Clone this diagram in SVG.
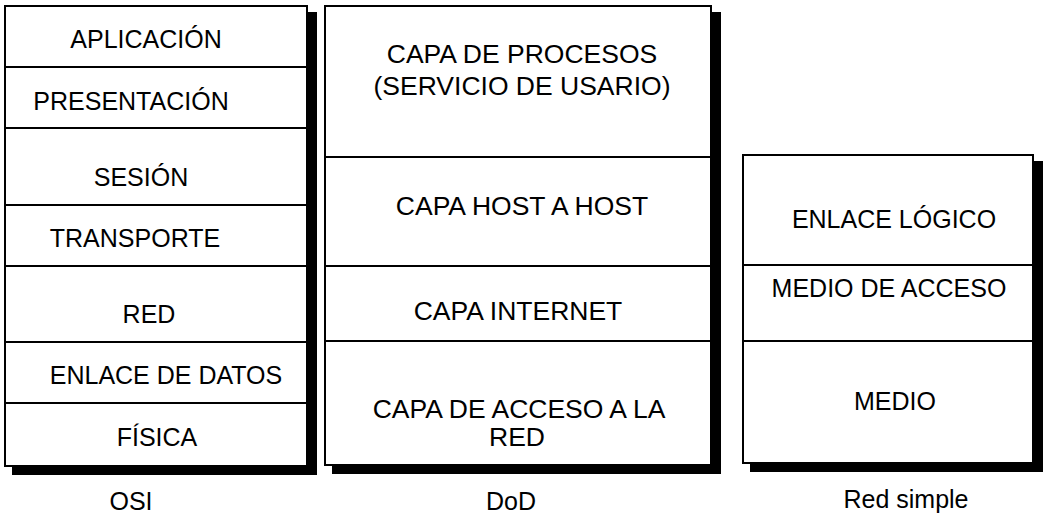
<svg xmlns="http://www.w3.org/2000/svg" width="1044" height="514" viewBox="0 0 1044 514">
  <style>
    text { font-family: "Liberation Sans", Arial, sans-serif; font-size: 25px; fill: #000; text-anchor: middle; }
    .big { font-size: 26.5px; }
    .frame { fill: #ffffff; stroke: #000000; stroke-width: 2; }
    .rule { stroke: #000000; stroke-width: 2; }
    .shade { fill: none; stroke: #000000; stroke-width: 9; stroke-linejoin: miter; stroke-linecap: butt; }
  </style>
  <rect width="1044" height="514" fill="#ffffff"/>

  <!-- OSI stack -->
  <g id="osi">
    <polyline class="shade" points="312.5,12 312.5,470.5 12,470.5"/>
    <rect class="frame" x="5" y="6" width="302" height="460"/>
    <line class="rule" x1="5" y1="67" x2="307" y2="67"/>
    <line class="rule" x1="5" y1="128" x2="307" y2="128"/>
    <line class="rule" x1="5" y1="205" x2="307" y2="205"/>
    <line class="rule" x1="5" y1="266" x2="307" y2="266"/>
    <line class="rule" x1="5" y1="342" x2="307" y2="342"/>
    <line class="rule" x1="5" y1="403" x2="307" y2="403"/>
    <text x="146" y="48">APLICACIÓN</text>
    <text x="131" y="110">PRESENTACIÓN</text>
    <text x="141" y="186">SESIÓN</text>
    <text x="135" y="247">TRANSPORTE</text>
    <text x="149" y="323">RED</text>
    <text x="166" y="384">ENLACE DE DATOS</text>
    <text x="157" y="446">FÍSICA</text>
    <text x="131" y="510">OSI</text>
  </g>

  <!-- DoD stack -->
  <g id="dod">
    <polyline class="shade" points="716.5,12 716.5,469.5 332,469.5"/>
    <rect class="frame" x="325" y="6" width="386" height="459"/>
    <line class="rule" x1="325" y1="157" x2="711" y2="157"/>
    <line class="rule" x1="325" y1="266" x2="711" y2="266"/>
    <line class="rule" x1="325" y1="341" x2="711" y2="341"/>
    <text class="big" x="522" y="63">CAPA DE PROCESOS</text>
    <text class="big" x="522" y="95">(SERVICIO DE USARIO)</text>
    <text class="big" x="522" y="215">CAPA HOST A HOST</text>
    <text class="big" x="518" y="320">CAPA INTERNET</text>
    <text class="big" x="519" y="418">CAPA DE ACCESO A LA</text>
    <text class="big" x="517" y="446">RED</text>
    <text x="511" y="510">DoD</text>
  </g>

  <!-- Red simple stack -->
  <g id="red-simple">
    <polyline class="shade" points="1038.5,161 1038.5,467.5 750,467.5"/>
    <rect class="frame" x="743" y="155" width="290" height="308"/>
    <line class="rule" x1="743" y1="265" x2="1033" y2="265"/>
    <line class="rule" x1="743" y1="341" x2="1033" y2="341"/>
    <text x="894" y="228">ENLACE LÓGICO</text>
    <text x="889" y="297">MEDIO DE ACCESO</text>
    <text x="895" y="410">MEDIO</text>
    <text x="906" y="508">Red simple</text>
  </g>

  <g id="connectors"></g>
</svg>
